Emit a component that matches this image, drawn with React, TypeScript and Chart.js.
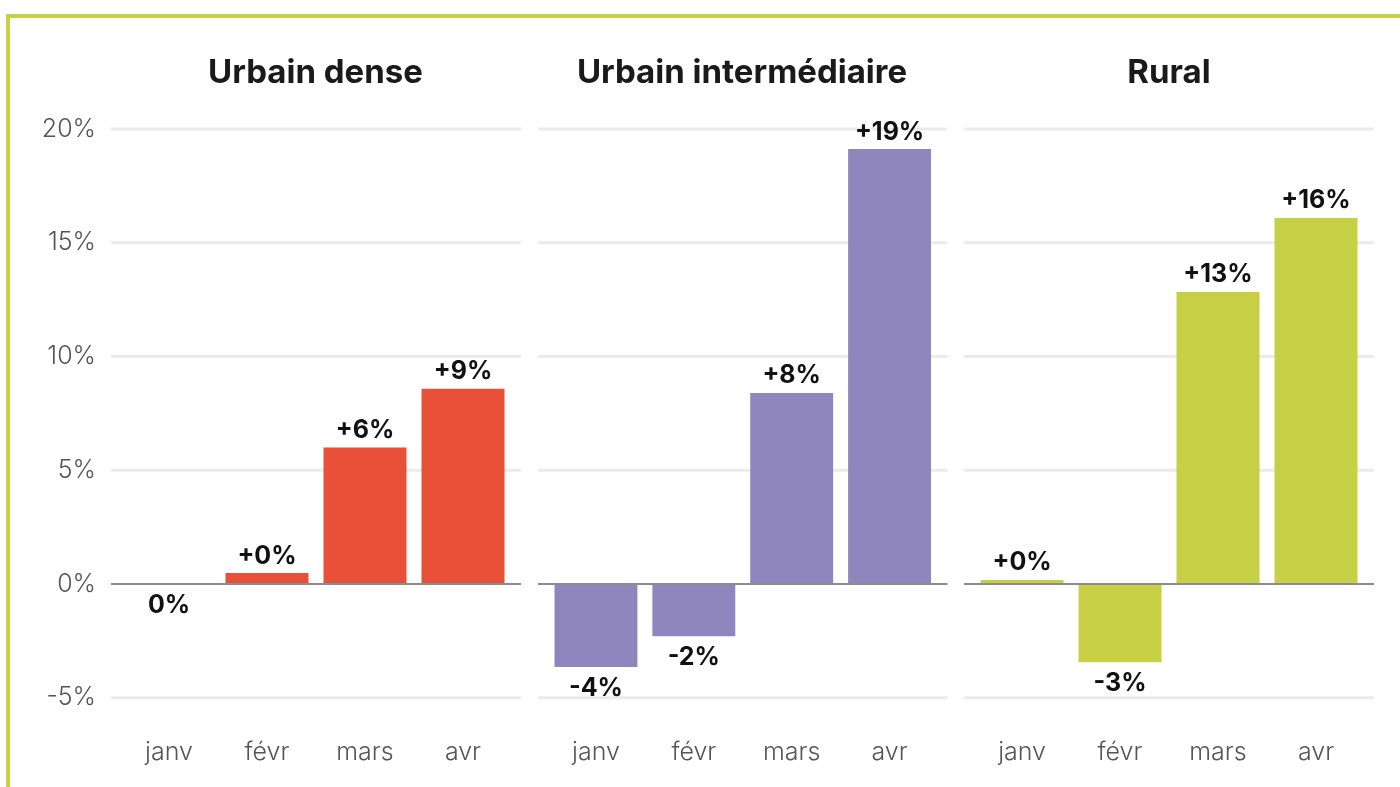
import React, { useEffect, useRef } from "react";
import { Chart, registerables } from "chart.js";

Chart.register(...registerables);

const categories = ["janv", "févr", "mars", "avr"];
const panelTitles = ["Urbain dense", "Urbain intermédiaire", "Rural"];
const urbainDense = [0, 0.48, 6.0, 8.58];
const urbainIntermediaire = [-3.65, -2.3, 8.4, 19.12];
const rural = [0.18, -3.44, 12.84, 16.09];
const yTicks = [-5, 0, 5, 10, 15, 20];

const FONT = "Inter, 'Noto Sans', sans-serif";

function fmtLabel(v: number): string {
  if (v === 0) return "0%";
  const r = Math.round(Math.abs(v));
  return (v > 0 ? "+" : "-") + r + "%";
}

const panelPlugin = {
  id: "panelDecor",
  beforeDatasetsDraw(chart: any) {
    const { ctx, chartArea, scales } = chart;
    ctx.save();
    ctx.strokeStyle = "#ebebeb";
    ctx.lineWidth = 3;
    yTicks.forEach((t) => {
      if (t === 0) return;
      const y = scales.y.getPixelForValue(t);
      ctx.beginPath();
      ctx.moveTo(chartArea.left - 9, y);
      ctx.lineTo(chartArea.right + 9, y);
      ctx.stroke();
    });
    ctx.restore();
  },
  afterDatasetsDraw(chart: any) {
    const { ctx, chartArea, scales } = chart;
    ctx.save();
    const y0 = scales.y.getPixelForValue(0);
    ctx.strokeStyle = "#8c8c8c";
    ctx.lineWidth = 2;
    ctx.beginPath();
    ctx.moveTo(chartArea.left - 9, y0);
    ctx.lineTo(chartArea.right + 9, y0);
    ctx.stroke();

    const meta = chart.getDatasetMeta(0);
    const vals = chart.data.datasets[0].data as number[];
    ctx.fillStyle = "#111111";
    ctx.font = `700 25px ${FONT}`;
    ctx.textAlign = "center";
    ctx.textBaseline = "middle";
    meta.data.forEach((bar: any, i: number) => {
      const v = vals[i];
      const y = v > 0 ? bar.y - 17 : bar.y + 21;
      ctx.fillText(fmtLabel(v), bar.x, y);
    });
    ctx.restore();
  },
};

type PanelProps = {
  values: number[];
  color: string;
  showY: boolean;
  left: number;
  width: number;
  padLeft: number;
  padRight: number;
};

function Panel({ values, color, showY, left, width, padLeft, padRight }: PanelProps) {
  const ref = useRef<HTMLCanvasElement | null>(null);
  useEffect(() => {
    if (!ref.current) return;
    const chart = new Chart(ref.current, {
      type: "bar",
      data: {
        labels: categories,
        datasets: [
          {
            data: values,
            backgroundColor: color,
            borderWidth: 0,
            barPercentage: 0.847,
            categoryPercentage: 1,
          },
        ],
      },
      options: {
        responsive: false,
        animation: false,
        layout: { padding: { top: 129, left: padLeft, right: padRight, bottom: 0 } },
        plugins: { legend: { display: false }, tooltip: { enabled: false }, title: { display: false } },
        scales: {
          x: {
            grid: { display: false, drawTicks: false },
            border: { display: false },
            ticks: {
              color: "#555555",
              font: { family: FONT, size: 25, weight: "300" as any },
              padding: 40,
              maxRotation: 0,
            },
            afterFit: (s: any) => {
              s.height = 89.25;
            },
          },
          y: {
            display: showY,
            min: -5,
            max: 20,
            grid: { display: false, drawTicks: false },
            border: { display: false },
            ticks: {
              stepSize: 5,
              color: "#555555",
              font: { family: FONT, size: 25, weight: "300" as any },
              padding: 24,
              callback: (v: any) => v + "%",
            },
            afterFit: (s: any) => {
              s.width = showY ? 120 : 0;
            },
          },
        },
      },
      plugins: [panelPlugin],
    });
    return () => chart.destroy();
  }, []);
  return (
    <canvas
      ref={ref}
      width={width}
      height={787}
      style={{ position: "absolute", left, top: 0, width, height: 787, display: "block" }}
    />
  );
}

const titleCenters = [315.5, 742, 1169];

export default function App() {
  return (
    <div
      style={{
        position: "fixed",
        left: 0,
        top: 0,
        width: 1400,
        height: 787,
        overflow: "hidden",
        background: "#ffffff",
      }}
    >
      <div
        style={{
          position: "absolute",
          left: 6,
          top: 14,
          width: 1500,
          height: 900,
          borderTop: "4px solid #c9d045",
          borderLeft: "4px solid #c9d045",
        }}
      />
      <Panel values={urbainDense} color="#e85037" showY={true} left={0} width={530} padLeft={0} padRight={18} />
      <Panel values={urbainIntermediaire} color="#8e86bd" showY={false} left={530} width={426} padLeft={16.5} padRight={17.5} />
      <Panel values={rural} color="#c7cf45" showY={false} left={956} width={444} padLeft={17} padRight={35} />
      {panelTitles.map((t, i) => (
        <div
          key={t}
          style={{
            position: "absolute",
            left: titleCenters[i] - 250,
            width: 500,
            top: 52,
            lineHeight: "38px",
            textAlign: "center",
            fontFamily: FONT,
            fontWeight: 700,
            fontSize: 33,
            color: "#1a1a1a",
          }}
        >
          {t}
        </div>
      ))}
    </div>
  );
}
